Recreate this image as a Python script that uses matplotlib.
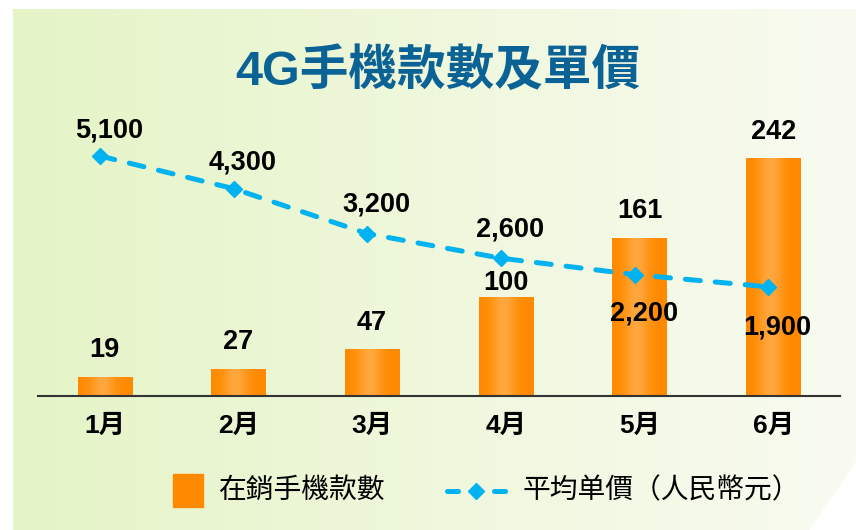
import numpy as np
import matplotlib.pyplot as plt
from matplotlib.colors import LinearSegmentedColormap
from matplotlib.patches import Rectangle, Polygon
from matplotlib.lines import Line2D

months = ['1月', '2月', '3月', '4月', '5月', '6月']
models = [19, 27, 47, 100, 161, 242]
prices = [5100, 4300, 3200, 2600, 2200, 1900]

title = '4G手機款數及單價'
bar_label = '在銷手機款數'
line_label = '平均单價（人民幣元）'

# label placement (points above the bar / relative to the marker)
bar_label_dy = [19.5, 19.5, 19.5, 11, 19.5, 19.5]
price_label_dy = [18, 19, 21, 21, -28, -29]

W, H = 856, 530
ORANGE = '#ff8a00'
ORANGE_LIGHT = '#ffa83f'
CYAN = '#00b2f0'
TITLE_COLOR = '#0a6394'

plt.rcParams['font.family'] = ['Liberation Sans', 'Noto Sans CJK TC', 'DejaVu Sans']

fig = plt.figure(figsize=(W / 100, H / 100), dpi=100)

# background panel with horizontal gradient and white folded corner
bg = fig.add_axes([0, 0, 1, 1])
bg.axis('off')
cmap_bg = LinearSegmentedColormap.from_list('bg', ['#e5f4c7', '#f9fbf1'])
bg.imshow(np.linspace(0, 1, 256).reshape(1, -1), cmap=cmap_bg,
          extent=[13, W, H, 9], aspect='auto')
bg.add_patch(Polygon([[W, 463], [810, H], [W, H]], color='white'))
bg.set_xlim(0, W)
bg.set_ylim(H, 0)

# main axes
ax = fig.add_axes([38 / W, 1 - 396 / H, (840 - 38) / W, (396 - 100) / H])
ax.patch.set_alpha(0)
x = np.arange(len(months))
bars = ax.bar(x, models, width=0.404, color=ORANGE, zorder=2)

# lighter band inside each bar
t = np.linspace(0, 1, 64)
shade = np.exp(-((t - 0.45) / 0.22) ** 2).reshape(1, -1)
cmap_bar = LinearSegmentedColormap.from_list('bar', [ORANGE, ORANGE_LIGHT])
for b in bars:
    ax.imshow(shade, cmap=cmap_bar, vmin=0, vmax=1, aspect='auto', zorder=2.1,
              extent=[b.get_x(), b.get_x() + b.get_width(), 0, b.get_height()])

for xi, v, dy in zip(x, models, bar_label_dy):
    ax.annotate(str(v), (xi, v), xytext=(0, dy), textcoords='offset points',
                ha='center', va='center', fontsize=19.5, fontweight='bold')

ax.set_xlim(-0.5, 5.5)
ax.set_ylim(0, 302)
ax.set_xticks(x, months, fontsize=19, fontweight='bold')
ax.set_yticks([])
ax.tick_params(length=0, pad=13)
for s in ['top', 'left', 'right']:
    ax.spines[s].set_visible(False)
ax.spines['bottom'].set_color('#333333')
ax.spines['bottom'].set_linewidth(1.5)

# price line on secondary axis (markers sit a little left of the bar centres)
ax2 = ax.twinx()
xl = x - 0.035
ax2.plot(xl, prices, color=CYAN, lw=3.6, dashes=(3, 3), dash_capstyle='round',
         marker='D', ms=8.5, zorder=3)
for xi, v, dy in zip(xl, prices, price_label_dy):
    ax2.annotate(f'{v:,}', (xi, v), xytext=(6.5, dy), textcoords='offset points',
                 ha='center', va='center', fontsize=19.5, fontweight='bold')
ax2.set_ylim(-768, 6469)
ax2.set_yticks([])
for s in ax2.spines.values():
    s.set_visible(False)

# title
fig.text(438 / W, 1 - 72 / H, title, ha='center', va='center', fontsize=35,
         fontweight='bold', color=TITLE_COLOR)

# legend drawn by hand
ly = 1 - 491 / H
fig.add_artist(Rectangle((173 / W, 1 - 507 / H), 30 / W, 33 / H,
                         transform=fig.transFigure, color=ORANGE))
fig.text(219 / W, ly, bar_label, ha='left', va='center', fontsize=20)
for x0, x1 in [(447, 458), (494, 505)]:
    fig.add_artist(Line2D([x0 / W, x1 / W], [ly, ly], transform=fig.transFigure,
                          color=CYAN, lw=3.6, solid_capstyle='round'))
fig.add_artist(Line2D([476 / W], [ly], transform=fig.transFigure, color=CYAN,
                      marker='D', ms=8.5, lw=0))
fig.text(523 / W, ly, line_label, ha='left', va='center', fontsize=20)

fig.savefig('out.png', dpi=100)
